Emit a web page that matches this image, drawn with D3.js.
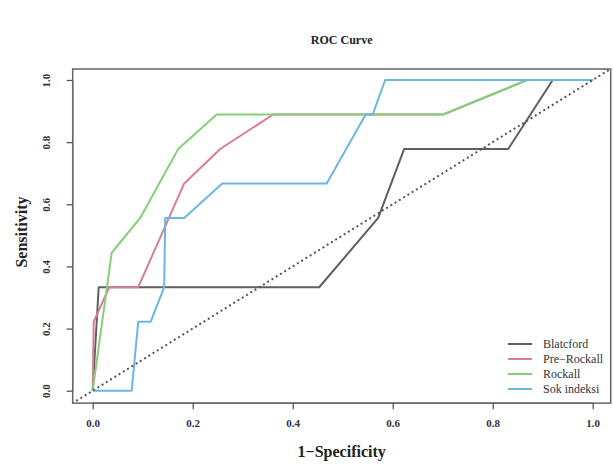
<!DOCTYPE html>
<html>
<head>
<meta charset="utf-8">
<script src="https://cdn.jsdelivr.net/npm/d3@7"></script>
<style>
  body { margin: 0; background: #fff; }
  svg text { font-family: "Liberation Serif", "DejaVu Serif", serif; }
</style>
</head>
<body>
<svg id="chart" width="613" height="466"></svg>
<script>
// series: [1-specificity, sensitivity]
var seriesNames = ["Blatcford", "Pre\u2212Rockall", "Rockall", "Sok indeksi"];
var seriesColors = ["#5f5f5f", "#d67f92", "#84cf78", "#6cb6df"];

var blatcford = [[0, 0], [0.012, 0.333], [0.453, 0.333], [0.571, 0.556], [0.623, 0.778],
  [0.831, 0.778], [0.92, 1], [1, 1]];
var preRockall = [[0, 0], [0.002, 0.222], [0.033, 0.333], [0.091, 0.333], [0.183, 0.667],
  [0.255, 0.778], [0.361, 0.889], [0.701, 0.889], [0.869, 1], [1, 1]];
var rockall = [[0, 0], [0.038, 0.444], [0.095, 0.556], [0.171, 0.778], [0.248, 0.889],
  [0.701, 0.889], [0.869, 1], [1, 1]];
var sokIndeksi = [[0, 0], [0.078, 0], [0.091, 0.222], [0.116, 0.222], [0.143, 0.333],
  [0.145, 0.556], [0.183, 0.556], [0.259, 0.667], [0.468, 0.667], [0.546, 0.889],
  [0.56, 0.889], [0.585, 1], [1, 1]];

var xTicks = [0, 0.2, 0.4, 0.6, 0.8, 1.0];
var yTicks = [0, 0.2, 0.4, 0.6, 0.8, 1.0];

var serif = "'Liberation Serif', 'DejaVu Serif', serif";
var svg = d3.select("#chart");

var x = d3.scaleLinear().domain([0, 1]).range([92.7, 592.7]);
var y = d3.scaleLinear().domain([0, 1]).range([390.7, 80]);

// plot region, R style 4% padding
var box = {x0: x(-0.04), x1: 610.7, y0: 69, y1: y(-0.04)};

svg.append("defs").append("clipPath").attr("id", "clip")
  .append("rect")
  .attr("x", box.x0).attr("y", box.y0)
  .attr("width", box.x1 - box.x0).attr("height", box.y1 - box.y0);

svg.append("text")
  .attr("x", (box.x0 + box.x1) / 2)
  .attr("y", 44)
  .attr("text-anchor", "middle")
  .style("font-family", serif)
  .style("font-size", "12px")
  .style("font-weight", "bold")
  .attr("fill", "#222")
  .text("ROC Curve");

var line = d3.line()
  .x(function(d) { return x(d[0]); })
  .y(function(d) { return y(d[1]); });

var g = svg.append("g").attr("clip-path", "url(#clip)");

[blatcford, preRockall, rockall, sokIndeksi].forEach(function(s, i) {
  g.append("path")
    .datum(s)
    .attr("d", line)
    .attr("fill", "none")
    .attr("stroke", seriesColors[i])
    .attr("stroke-width", 2)
    .attr("stroke-linejoin", "round");
});

// reference diagonal
g.append("path")
  .datum([[-0.05, -0.05], [1.05, 1.05]])
  .attr("d", line)
  .attr("fill", "none")
  .attr("stroke", "#555")
  .attr("stroke-width", 2)
  .attr("stroke-dasharray", "2,3");

svg.append("rect")
  .attr("x", box.x0).attr("y", box.y0)
  .attr("width", box.x1 - box.x0).attr("height", box.y1 - box.y0)
  .attr("fill", "none")
  .attr("stroke", "#666")
  .attr("stroke-width", 1.5);

var xAxis = svg.append("g")
  .attr("transform", "translate(0," + box.y1 + ")")
  .call(d3.axisBottom(x).tickValues(xTicks).tickSize(6).tickPadding(10)
    .tickFormat(d3.format(".1f")));
xAxis.select(".domain").attr("stroke", "#666").attr("stroke-width", 1.2)
  .attr("d", "M" + x(0) + ",0H" + x(1));
xAxis.selectAll(".tick line").attr("stroke", "#555").attr("stroke-width", 1.3);
xAxis.selectAll(".tick text")
  .attr("fill", "#333")
  .style("font-family", serif)
  .style("font-size", "11px")
  .style("font-weight", "bold");

var yAxis = svg.append("g")
  .attr("transform", "translate(" + box.x0 + ",0)")
  .call(d3.axisLeft(y).tickValues(yTicks).tickSize(6).tickPadding(0)
    .tickFormat(d3.format(".1f")));
yAxis.select(".domain").attr("stroke", "#666").attr("stroke-width", 1.2)
  .attr("d", "M0," + y(0) + "V" + y(1));
yAxis.selectAll(".tick line").attr("stroke", "#555").attr("stroke-width", 1.3);
yAxis.selectAll(".tick text")
  .attr("x", 0)
  .attr("text-anchor", "middle")
  .attr("transform", "translate(-27,0) rotate(-90)")
  .attr("dy", "0.35em")
  .attr("fill", "#333")
  .style("font-family", serif)
  .style("font-size", "11px")
  .style("font-weight", "bold");

svg.append("text")
  .attr("x", (box.x0 + box.x1) / 2)
  .attr("y", 457)
  .attr("text-anchor", "middle")
  .style("font-family", serif)
  .style("font-size", "16px")
  .style("font-weight", "bold")
  .attr("fill", "#222")
  .text("1\u2212Specificity");

svg.append("text")
  .attr("transform", "translate(27," + 232 + ") rotate(-90)")
  .attr("text-anchor", "middle")
  .style("font-family", serif)
  .style("font-size", "16px")
  .style("font-weight", "bold")
  .attr("fill", "#222")
  .text("Sensitivity");

// legend
var legend = svg.append("g");
seriesNames.forEach(function(name, i) {
  var ly = 344 + i * 15;
  legend.append("line")
    .attr("x1", 508).attr("x2", 532)
    .attr("y1", ly).attr("y2", ly)
    .attr("stroke", seriesColors[i])
    .attr("stroke-width", 2);
  legend.append("text")
    .attr("x", 543).attr("y", ly)
    .attr("dy", "0.35em")
    .style("font-family", serif)
    .style("font-size", "12px")
    .attr("fill", "#333")
    .text(name);
});
</script>
</body>
</html>
